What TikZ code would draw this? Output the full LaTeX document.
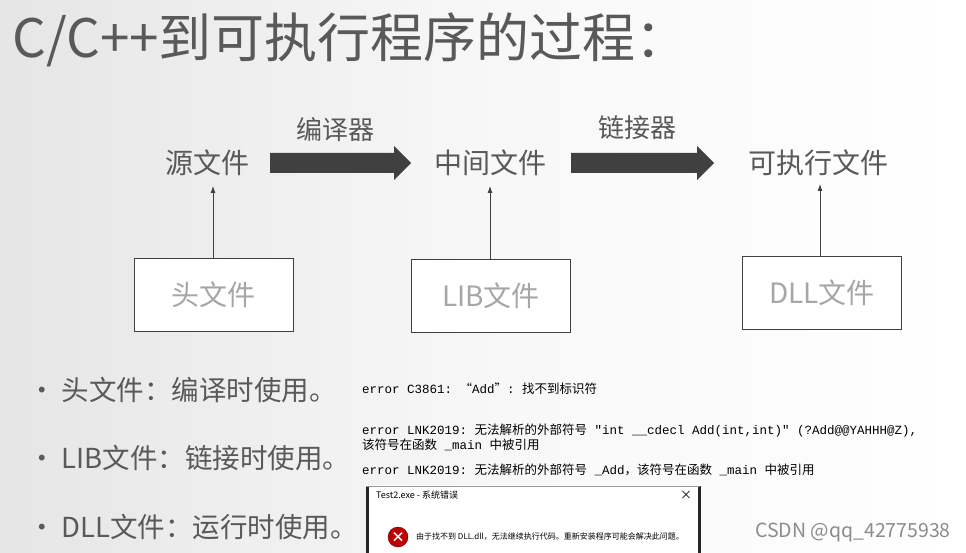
\documentclass[tikz,border=0pt]{standalone}
\usepackage{fontspec}
\setmainfont{Noto Sans CJK SC}
\setmonofont{Liberation Mono}
\newfontfamily\cjk{Noto Sans CJK SC}
\usetikzlibrary{arrows.meta}
\definecolor{txt}{HTML}{595959}
\definecolor{lite}{HTML}{A6A6A6}
\definecolor{arr}{HTML}{404040}
\tikzset{
 lbl/.style={font=\fontsize{28}{28}\selectfont, text=txt, inner sep=0pt},
 boxn/.style={draw=arr, line width=0.8pt, minimum width=159pt, minimum height=73pt, font=\fontsize{28}{28}\selectfont, text=lite, fill=white},
 thin/.style={draw=arr, line width=0.8pt, -{Latex[length=7pt,width=5pt]}},
 bullet/.style={font=\fontsize{27.5}{27.5}\selectfont, text=txt, anchor=west, inner sep=0pt},
 err/.style={font=\fontsize{12.5}{15}\selectfont\ttfamily, anchor=west, inner sep=0pt, align=left}
}
\begin{document}
\begin{tikzpicture}[x=1pt,y=-1pt]
\shade[left color=black!10, right color=white, middle color=white!97!black] (0,0) rectangle (966,553);
\useasboundingbox (0,0) rectangle (966,553);
\node[font=\fontsize{53}{53}\selectfont, text=txt, anchor=west, inner sep=0pt] (title) at (12,40) {C/C++到可执行程序的过程：};
\node[lbl] (src) at (207,163) {源文件};
\node[lbl] (mid) at (490,163) {中间文件};
\node[lbl] (exe) at (818,163) {可执行文件};
\node[font=\fontsize{26}{26}\selectfont, text=txt, inner sep=0pt] (c1) at (335,130) {编译器};
\node[font=\fontsize{26}{26}\selectfont, text=txt, inner sep=0pt] (c2) at (637,128) {链接器};
\fill[arr] (270,153) -- (394,153) -- (394,146) -- (411,163) -- (394,180) -- (394,173) -- (270,173) -- cycle;
\fill[arr] (571,153) -- (697,153) -- (697,146) -- (714,163) -- (697,180) -- (697,173) -- (571,173) -- cycle;
\node[boxn] (h) at (213.5,294.5) {头文件};
\node[boxn] (lib) at (491,296) {LIB文件};
\node[boxn] (dll) at (822,293) {DLL文件};
\draw[thin] (h.north -| 213,0) -- (213,186);
\draw[thin] (lib.north -| 490,0) -- (490,186);
\draw[thin] (dll.north -| 820,0) -- (820,184);
\node[bullet] (b1) at (28,390) {•\hspace{6pt}头文件：编译时使用。};
\node[bullet] (b2) at (28,458) {•\hspace{6pt}LIB文件：链接时使用。};
\node[bullet] (b3) at (28,527) {•\hspace{6pt}DLL文件：运行时使用。};
\node[err] (e1) at (362,389) {error C3861: {\cjk “}Add{\cjk ”}: {\cjk 找不到标识符}};
\node[err] (e2) at (362,437) {error LNK2019: {\cjk 无法解析的外部符号} "int \_\_cdecl Add(int,int)" (?Add@@YAHHH@Z),\\{\cjk 该符号在函数} \_main {\cjk 中被引用}};
\node[err] (e3) at (362,470) {error LNK2019: {\cjk 无法解析的外部符号} \_Add{\cjk ，该符号在函数} \_main {\cjk 中被引用}};
\fill[white] (366,485) rectangle (700,553);
\draw[black!85, line width=3pt] (367,486) -- (367,553);
\draw[black!85, line width=3pt] (699,486) -- (699,553);
\draw[black!40, line width=0.6pt] (366,486) -- (700,486);
\node[font=\fontsize{9}{9}\selectfont, anchor=west, inner sep=0pt] (dt) at (376,495) {Test2.exe - 系统错误};
\node[font=\fontsize{12}{12}\selectfont, inner sep=0pt] (dx) at (686,495) {×};
\node[circle, fill=red!75!black, draw=red!40!black, minimum size=20pt, inner sep=0pt, text=white, font=\bfseries\fontsize{14}{14}\selectfont] (ic) at (398,537) {×};
\node[font=\fontsize{8}{8}\selectfont, anchor=west, inner sep=0pt] (dm) at (416,537) {由于找不到 DLL.dll，无法继续执行代码。重新安装程序可能会解决此问题。};
\node[font=\fontsize{19.5}{19.5}\selectfont, text=black!45, anchor=east, inner sep=0pt] (wm) at (951,532) {CSDN @qq\_42775938};
\end{tikzpicture}
\end{document}
